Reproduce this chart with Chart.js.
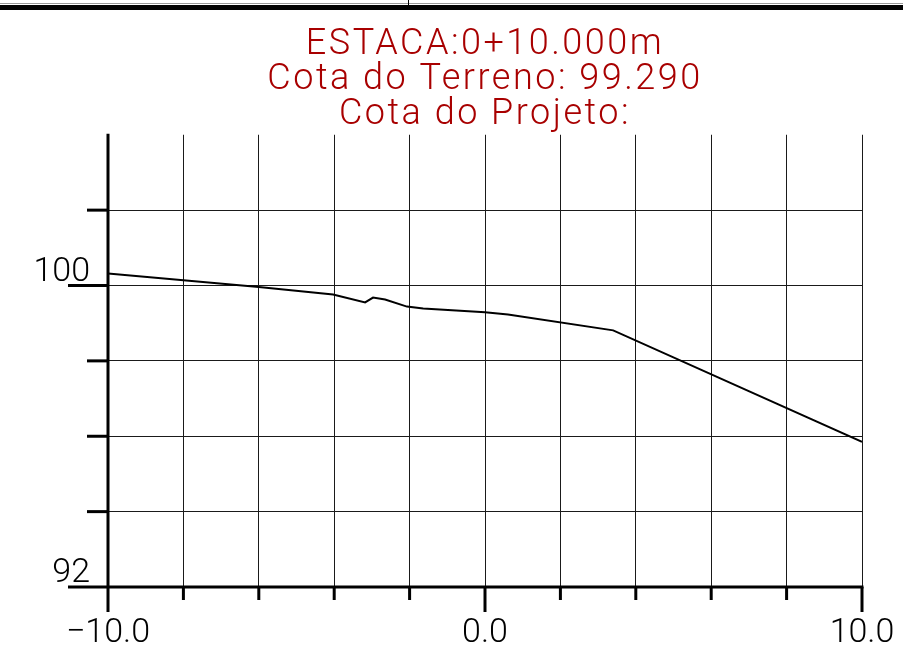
<!DOCTYPE html>
<html>
<head>
<meta charset="utf-8">
<script src="https://cdn.jsdelivr.net/npm/chart.js@4"></script>
<style>
  html, body { margin: 0; padding: 0; background: #fff; }
  #wrap { width: 903px; height: 653px; position: relative; }
</style>
</head>
<body>
<div id="wrap"><canvas id="myChart"></canvas></div>
<script>
// perfil transversal
const estacas = [-10, -6, -4.03, -3.18, -2.97, -2.65, -2.07, -1.64, 0, 0.61, 3.40, 10];
const cotas = [100.32, 99.96, 99.76, 99.55, 99.68, 99.63, 99.44, 99.39, 99.29, 99.23, 98.81, 95.85];

const titulo = ['ESTACA:0+10.000m', 'Cota do Terreno: 99.290', 'Cota do Projeto:'];

const xTickValues = [-10, 0, 10];
const xTickLabels = ['\u221210.0', '0.0', '10.0'];
const yTickValues = [100, 92];
const yTickLabels = ['100', '92'];

const xMin = -10, xMax = 10, xStep = 2;
const yMin = 92, yMax = 104, yStep = 2;

let fonte = "Roboto, 'Liberation Sans', sans-serif";

let pontos = [];
for (let i = 0; i < estacas.length; i++) {
    pontos.push({x: estacas[i], y: cotas[i]});
}

// o texto CAD e mais espacado, so vale pro titulo
let espacamento = {
    id: 'espacamento',
    beforeDraw: function (chart) {
        chart.ctx.letterSpacing = '2.5px';
    },
    beforeDatasetsDraw: function (chart) {
        chart.ctx.letterSpacing = '0px';
    }
};

// eixos grossos, tracinhos e rotulos estilo CAD
let eixosCad = {
    id: 'eixosCad',
    afterDraw: function (chart) {
        let ctx = chart.ctx;
        let xs = chart.scales.x;
        let ys = chart.scales.y;
        let area = chart.chartArea;
        ctx.save();
        ctx.letterSpacing = '0px';

        // moldura do topo
        ctx.fillStyle = '#999';
        ctx.fillRect(0, 3, chart.width, 1);
        ctx.fillStyle = '#000';
        ctx.fillRect(0, 5, chart.width, 5);
        ctx.fillRect(408, 0, 1, 6);

        ctx.strokeStyle = '#000';
        ctx.lineWidth = 3;
        ctx.lineCap = 'butt';

        let x0 = xs.getPixelForValue(xMin);
        let y0 = ys.getPixelForValue(yMin);

        // eixo y
        ctx.beginPath();
        ctx.moveTo(x0, area.top - 1);
        ctx.lineTo(x0, y0 + 25);
        ctx.stroke();

        // eixo x
        ctx.beginPath();
        ctx.moveTo(x0 - 40, y0);
        ctx.lineTo(xs.getPixelForValue(xMax) + 1.5, y0);
        ctx.stroke();

        // tracos do eixo x
        for (let v = xMin + xStep; v <= xMax; v += xStep) {
            let px = xs.getPixelForValue(v);
            let longo = xTickValues.indexOf(v) >= 0;
            ctx.beginPath();
            ctx.moveTo(px, y0);
            ctx.lineTo(px, y0 + (longo ? 25 : 13));
            ctx.stroke();
        }

        // tracos do eixo y
        for (let v = yMin + yStep; v < yMax; v += yStep) {
            let py = ys.getPixelForValue(v);
            let longo = yTickValues.indexOf(v) >= 0;
            ctx.beginPath();
            ctx.moveTo(x0 - (longo ? 40 : 21), py);
            ctx.lineTo(x0, py);
            ctx.stroke();
        }

        ctx.fillStyle = '#000';
        ctx.font = '300 34px ' + fonte;
        ctx.textAlign = 'center';
        ctx.textBaseline = 'alphabetic';
        for (let i = 0; i < xTickValues.length; i++) {
            ctx.fillText(xTickLabels[i], xs.getPixelForValue(xTickValues[i]), y0 + 55);
        }
        ctx.textAlign = 'right';
        for (let i = 0; i < yTickValues.length; i++) {
            ctx.fillText(yTickLabels[i], x0 - 18, ys.getPixelForValue(yTickValues[i]) - 5);
        }
        ctx.restore();
    }
};

let ctx = document.getElementById('myChart');
let myChart = new Chart(ctx, {
    type: 'scatter',
    data: {
        datasets: [{
            data: pontos,
            showLine: true,
            borderColor: '#000',
            borderWidth: 2,
            pointRadius: 0,
            tension: 0
        }]
    },
    options: {
        responsive: true,
        maintainAspectRatio: false,
        animation: false,
        layout: {
            padding: {left: 108, right: 41, top: 0, bottom: 66}
        },
        plugins: {
            legend: {display: false},
            tooltip: {enabled: false},
            title: {
                display: true,
                text: titulo,
                color: '#a80000',
                font: {family: fonte, size: 36, weight: 300, lineHeight: 0.97},
                padding: {top: 28, bottom: 2}
            }
        },
        scales: {
            x: {
                type: 'linear',
                min: xMin,
                max: xMax,
                ticks: {display: false, stepSize: xStep},
                border: {display: false},
                grid: {color: '#1a1a1a', lineWidth: 1, drawTicks: false}
            },
            y: {
                type: 'linear',
                min: yMin,
                max: yMax,
                ticks: {display: false, stepSize: yStep},
                border: {display: false},
                grid: {
                    lineWidth: 1,
                    drawTicks: false,
                    color: function (c) {
                        return c.tick && c.tick.value === yMax ? 'rgba(0,0,0,0)' : '#1a1a1a';
                    }
                }
            }
        }
    },
    plugins: [espacamento, eixosCad]
});
</script>
</body>
</html>
